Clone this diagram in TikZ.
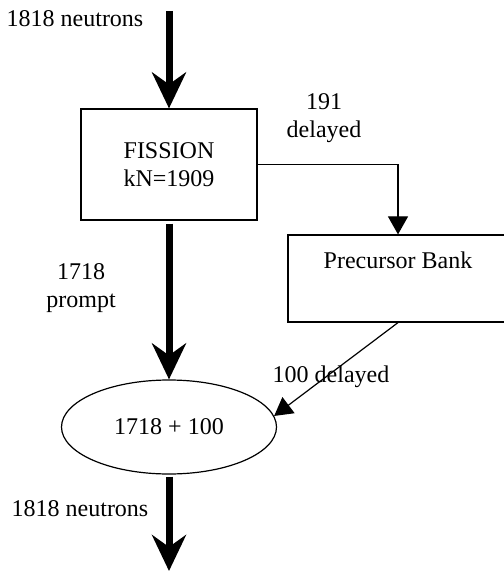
\documentclass[tikz,border=0pt]{standalone}
\usepackage{fontspec}
\setmainfont{Liberation Serif}
\usetikzlibrary{positioning, shapes.geometric, arrows.meta}
\tikzstyle{process} = [rectangle, minimum width=88pt, minimum height=55.5pt, text centered, draw=black, line width=0.6pt, inner sep=0pt]
\tikzstyle{store} = [rectangle, minimum width=110pt, minimum height=43.5pt, draw=black, line width=0.6pt]
\tikzstyle{sum} = [ellipse, minimum width=107.5pt, minimum height=47pt, text centered, draw=black, line width=0.6pt, inner sep=0pt]
\tikzstyle{flow} = [line width=3.5pt, -{Stealth[length=18pt, width=17pt, inset=6pt]}]
\tikzstyle{arrow} = [line width=0.6pt, -{Triangle[length=9pt, width=10pt]}]
\tikzstyle{every node}=[font=\fontsize{12}{14}\selectfont, align=center]

\begin{document}
\begin{tikzpicture}[x=0.5pt, y=-0.5pt]
			\useasboundingbox (0,0) rectangle (503,571);
			%shapes
			\node (fission) [process] at (169,164.5) {FISSION\\kN=1909};
			\node (bank) [store, label={[anchor=north, yshift=-5pt]north:Precursor Bank}] at (398,278.5) {};
			\node (sum) [sum] at (169,427) {1718 + 100};
			\coordinate (src) at (169,11);
			\coordinate (sink) at (169,571);
			%texts
			\node (nin) at (75,19) {1818 neutrons};
			\node (ndelay) at (324,118) {191\\delayed};
			\node (nprompt) at (81,288) {1718\\prompt};
			\node (nback) at (331,377) {100 delayed};
			\node (nout) at (80,509) {1818 neutrons};
			%arrows
			\draw [flow](src) -- (fission);
			\draw [flow,shorten <=1.5pt](fission) -- (sum);
			\draw [flow,shorten <=1pt](sum) -- (sink);
			\draw [arrow](fission.east) -| (bank.north);
			\draw [arrow](bank.south) -- (sum.6);
		\end{tikzpicture}
\end{document}
